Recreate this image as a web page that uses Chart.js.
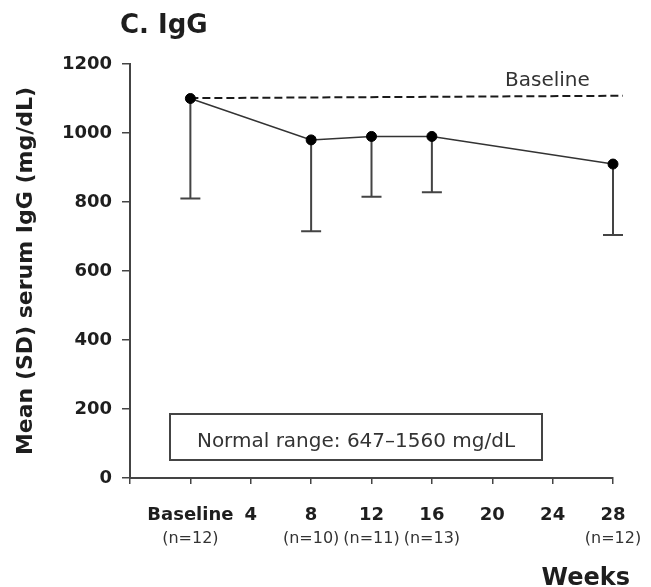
<!DOCTYPE html>
<html><head><meta charset="utf-8">
<script src="https://cdn.jsdelivr.net/npm/chart.js@4"></script>
<style>html,body{margin:0;padding:0;background:#fff}canvas{display:block}</style>
</head><body>
<canvas id="c" width="651" height="587"></canvas>
<script>
// ---- data ----
const weeks = [0, 8, 12, 16, 28];
const meanIgG = [1100, 980, 990, 990, 910];
const sdIgG = [290, 265, 175, 162, 206];
const nCounts = [12, 10, 11, 13, 12];
const baselineRefWeeks = [0, 28.66];
const baselineRefValues = [1101, 1108];
const xTickWeeks = [-4, 0, 4, 8, 12, 16, 20, 24, 28];
const xTickLabels = ['', 'Baseline', '4', '8', '12', '16', '20', '24', '28'];
const yTickValues = [0, 200, 400, 600, 800, 1000, 1200];
const titleText = 'C. IgG';
const yTitle = 'Mean (SD) serum IgG (mg/dL)';
const xTitle = 'Weeks';
const refLabel = 'Baseline';
const normalRangeText = 'Normal range: 647\u20131560 mg/dL';

const FONT = '"DejaVu Sans", sans-serif';
const INK = '#1e1e1e';

const annot = {
  id: 'annot',
  beforeDatasetsDraw(chart) {
    const {ctx, scales: {x, y}} = chart;
    ctx.save();
    ctx.strokeStyle = '#444';
    ctx.lineWidth = 2;
    weeks.forEach((w, i) => {
      const px = x.getPixelForValue(w);
      const top = y.getPixelForValue(meanIgG[i]);
      const bot = y.getPixelForValue(meanIgG[i] - sdIgG[i]);
      ctx.beginPath();
      ctx.moveTo(px, top); ctx.lineTo(px, bot);
      ctx.moveTo(px - 10, bot); ctx.lineTo(px + 10, bot);
      ctx.stroke();
    });
    ctx.restore();
  },
  afterDraw(chart) {
    const {ctx, scales: {x}} = chart;
    ctx.save();
    ctx.fillStyle = INK;
    // title
    ctx.font = 'bold 26px ' + FONT;
    ctx.textAlign = 'left'; ctx.textBaseline = 'alphabetic';
    ctx.fillText(titleText, 120, 33);
    // baseline label
    ctx.font = '20px ' + FONT;
    ctx.fillStyle = '#333';
    ctx.fillText(refLabel, 505, 86);
    // normal range box
    ctx.strokeStyle = '#444';
    ctx.lineWidth = 2;
    ctx.strokeRect(170, 414, 372, 46);
    ctx.textAlign = 'center';
    ctx.fillText(normalRangeText, 356, 447);
    // n labels
    ctx.font = '16px ' + FONT;
    ctx.textBaseline = 'middle';
    weeks.forEach((w, i) => {
      ctx.fillText('(n=' + nCounts[i] + ')', x.getPixelForValue(w), 539);
    });
    // x title
    ctx.fillStyle = INK;
    ctx.font = 'bold 24px ' + FONT;
    ctx.textAlign = 'right'; ctx.textBaseline = 'alphabetic';
    ctx.fillText(xTitle, 630, 585);
    ctx.restore();
  }
};

new Chart(document.getElementById('c'), {
  type: 'line',
  data: {
    datasets: [
      {
        data: weeks.map((w, i) => ({x: w, y: meanIgG[i]})),
        borderColor: '#333',
        borderWidth: 1.5,
        pointRadius: 5,
        pointBackgroundColor: '#000',
        pointBorderColor: '#000',
        pointBorderWidth: 1,
        tension: 0,
        clip: false,
        order: 1
      },
      {
        data: baselineRefWeeks.map((w, i) => ({x: w, y: baselineRefValues[i]})),
        borderColor: '#1a1a1a',
        borderWidth: 2,
        borderDash: [8, 4],
        pointRadius: 0,
        clip: false,
        order: 2
      }
    ]
  },
  options: {
    responsive: false,
    animation: false,
    devicePixelRatio: 1,
    layout: {padding: {top: 64, right: 38, left: 0, bottom: 0}},
    plugins: {legend: {display: false}, tooltip: {enabled: false}, title: {display: false}},
    scales: {
      x: {
        type: 'linear',
        min: -4, max: 28,
        afterFit(s) { s.height = 109; },
        afterBuildTicks(s) { s.ticks = xTickWeeks.map(v => ({value: v})); },
        grid: {display: true, drawOnChartArea: false, drawTicks: true, tickLength: 6, color: '#444', lineWidth: 1.5},
        border: {display: true, color: '#444', width: 2},
        ticks: {
          autoSkip: false, maxRotation: 0, padding: 21,
          color: INK,
          font: {family: FONT, size: 18, weight: 'bold'},
          callback: (v) => { const k = xTickWeeks.indexOf(v); return k >= 0 ? xTickLabels[k] : ''; }
        }
      },
      y: {
        type: 'linear',
        min: 0, max: 1200,
        afterFit(s) { s.width = 130; },
        afterBuildTicks(s) { s.ticks = yTickValues.map(v => ({value: v})); },
        grid: {display: true, drawOnChartArea: false, drawTicks: true, tickLength: 8, color: '#444', lineWidth: 1.5},
        border: {display: true, color: '#444', width: 2},
        ticks: {
          padding: 10, color: INK,
          font: {family: FONT, size: 18, weight: 'bold'},
          callback: (v) => String(v)
        },
        title: {
          display: true, text: yTitle, color: INK,
          font: {family: FONT, size: 22, weight: 'bold'},
          padding: {top: 13, bottom: 0}
        }
      }
    }
  },
  plugins: [annot]
});
</script>
</body></html>
